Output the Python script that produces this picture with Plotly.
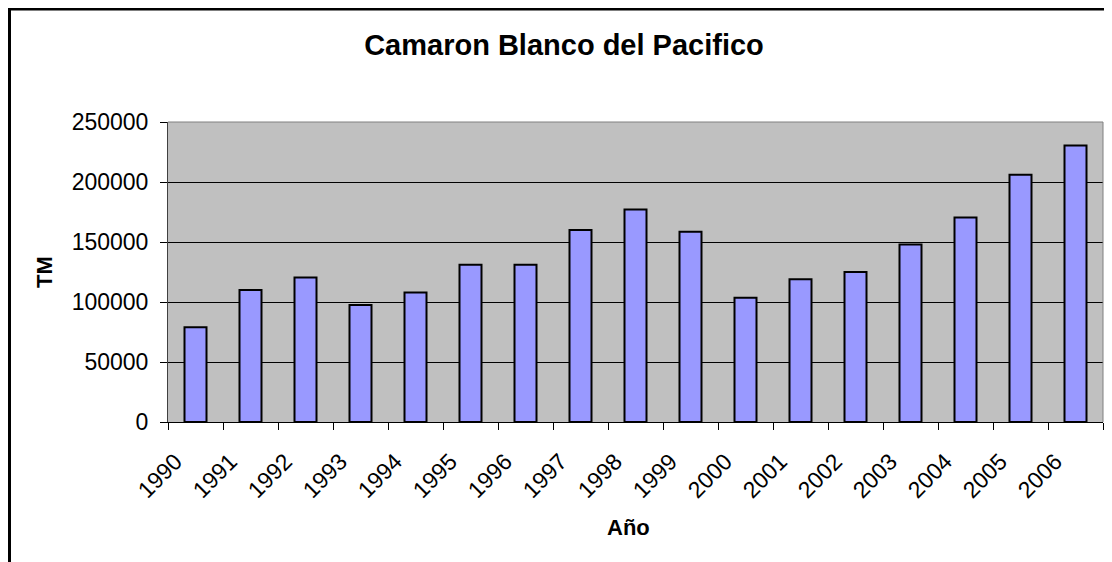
import plotly.graph_objects as go

# Producción de camarón blanco del Pacífico (TM)
years = ["1990", "1991", "1992", "1993", "1994", "1995", "1996", "1997", "1998",
         "1999", "2000", "2001", "2002", "2003", "2004", "2005", "2006"]
tm = [79000, 110000, 120500, 97500, 108000, 131000, 131000, 160000, 177000,
      158500, 103500, 119000, 125000, 148000, 170500, 206000, 230500]
y_ticks = [0, 50000, 100000, 150000, 200000, 250000]

font_family = "Liberation Sans, Arial, sans-serif"

# la página tiene 8 px de margen en el body
W, H = 1112, 562
left, top, right, bottom = 160, 114, 1095, 414
pw, ph = right - left, bottom - top

fig = go.Figure()
fig.add_trace(go.Bar(
    x=years, y=tm,
    marker=dict(color="#9999FF", line=dict(color="black", width=2)),
    width=0.4,
))

fig.update_layout(
    width=W, height=H,
    margin=dict(l=left, r=W - right, t=top, b=H - bottom, pad=0),
    paper_bgcolor="white",
    plot_bgcolor="#C0C0C0",
    showlegend=False,
    font=dict(family=font_family, size=23, color="black"),
    title=dict(
        text="<b>Camaron Blanco del Pacifico</b>",
        x=(564 - 8) / W, xanchor="center", y=1 - 37 / H, yanchor="middle",
        font=dict(size=29, family=font_family, color="black"),
    ),
)

fig.update_xaxes(
    type="category",
    tickangle=-45,
    ticks="outside", ticklen=7, tickcolor="black",
    tickson="boundaries",
    ticklabelshift=-20,
    ticklabelstandoff=16,
    showline=True, linecolor="black", linewidth=1,
    showgrid=False,
    tickfont=dict(size=23),
)

fig.update_yaxes(
    range=[0, 250000],
    tickvals=y_ticks,
    ticktext=[str(v) for v in y_ticks],
    ticks="outside", ticklen=7, tickcolor="black",
    ticklabelstandoff=7,
    showline=True, linecolor="#404040", linewidth=1,
    showgrid=True, gridcolor="black", gridwidth=1,
    zeroline=False,
    tickfont=dict(size=23),
    title=dict(text="<b>TM</b>", font=dict(size=22), standoff=12),
)

# título del eje x
fig.add_annotation(text="<b>Año</b>", xref="paper", yref="paper",
                   x=(620 - left) / pw, y=-(519 - bottom) / ph,
                   xanchor="center", yanchor="middle", showarrow=False,
                   font=dict(size=22))

# borde gris del área de trazado (arriba y derecha)
fig.add_shape(type="line", xref="paper", yref="paper", x0=0, x1=1, y0=1, y1=1,
              line=dict(color="#808080", width=1))
fig.add_shape(type="line", xref="paper", yref="paper", x0=1, x1=1, y0=0, y1=1,
              line=dict(color="#808080", width=1))

# marco negro del gráfico
fig.add_shape(type="rect", xref="paper", yref="paper",
              x0=(1.5 - left) / pw, x1=(W + 20 - left) / pw,
              y0=-(H + 20 - bottom) / ph, y1=1 + (top - 1) / ph,
              line=dict(color="black", width=3), fillcolor="rgba(0,0,0,0)")

fig.write_html("out.html")
